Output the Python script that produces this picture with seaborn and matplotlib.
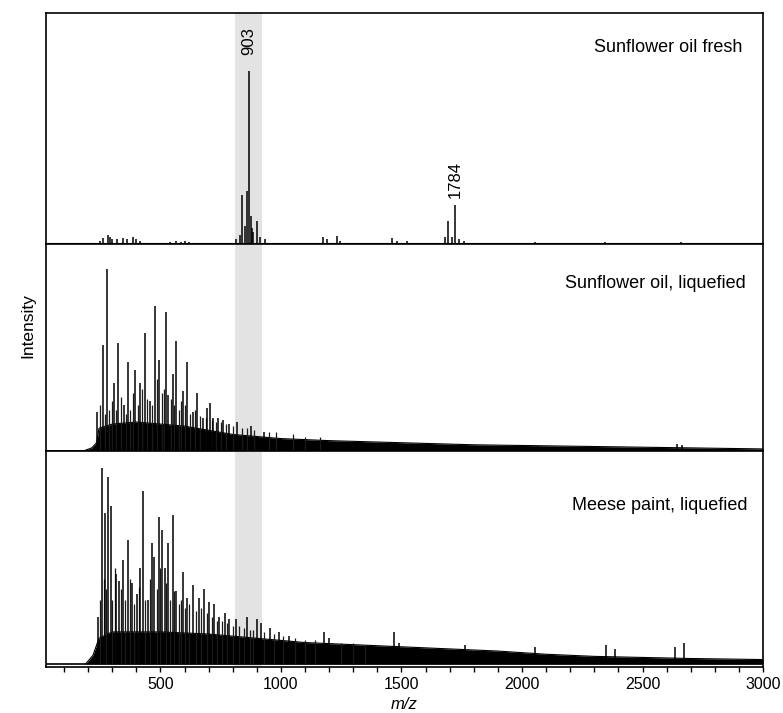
import numpy as np
import pandas as pd
import seaborn as sns
import matplotlib.pyplot as plt
from matplotlib.ticker import MultipleLocator

# ---- data (m/z, relative intensity in % of panel) ----
fresh_mz = [248, 262, 281, 290, 300, 320, 345, 360, 385, 400, 415,
            540, 566, 585, 600, 620, 812, 830, 839, 850, 857, 868, 874, 880,
            886, 901, 912, 935, 1174, 1190, 1233, 1245, 1459, 1480, 1521,
            1680, 1694, 1710, 1723, 1740, 1760, 2053, 2343, 2660]
fresh_h = [1.5, 2.5, 4, 3, 2, 2, 2.5, 2, 3, 2, 1.5,
           1, 1.5, 1, 1.5, 1, 2, 4, 21, 8, 23, 75, 12, 7,
           5, 10, 3, 2, 3, 2, 3.5, 1.5, 2.5, 1.5, 1.5,
           3, 10, 3, 17, 2, 1.5, 1, 1, 0.8]
fresh_base_mz = [30, 3000]
fresh_base_h = [0.6, 0.6]

liq_mz = [238, 260, 277, 307, 325, 348, 365, 393, 416, 434, 455, 477, 496,
          521, 533, 551, 565, 592, 610, 634, 652, 675, 695, 705, 720, 740,
          760, 785, 819, 875, 930, 1480, 2066, 2314, 2645, 2665]
liq_h = [19, 51, 88, 33, 52, 22, 43, 39, 33, 57, 24, 70, 44,
         67, 27, 37, 53, 29, 43, 19, 28, 16, 21, 23, 16, 16,
         15, 13, 14, 12, 9, 4, 2.5, 2.5, 3.5, 3]
liq_minor_mz = [250, 268, 286, 298, 315, 335, 356, 375, 385, 405, 425, 445,
                465, 487, 508, 515, 542, 558, 575, 585, 600, 622, 645, 665,
                688, 712, 730, 750, 770, 800, 840, 860, 890, 950, 980, 1050,
                1100, 1160]
liq_minor_h = [22, 18, 20, 24, 20, 26, 18, 20, 28, 22, 30, 25,
               22, 35, 28, 30, 25, 22, 20, 24, 22, 18, 20, 17,
               16, 15, 14, 14, 13, 12, 11, 11, 10, 9, 9, 8,
               7, 7]
liq_env_mz = [180, 215, 235, 245, 300, 400, 500, 600, 700, 800, 900, 1000,
              1200, 1500, 1800, 2100, 2400, 2700, 3000]
liq_env_h = [0, 1.5, 4, 11, 13, 14, 13, 12, 10, 8, 7, 6,
             5, 4, 3, 2.5, 2, 1.5, 1]

meese_mz = [241, 259, 269, 284, 293, 317, 328, 344, 366, 383, 402, 416, 427,
            448, 464, 475, 493, 507, 519, 533, 551, 565, 594, 610, 636, 661,
            682, 702, 723, 744, 769, 785, 813, 857, 900, 916, 953, 992, 1033,
            1178, 1199, 1467, 1488, 1764, 2054, 2347, 2384, 2636, 2673]
meese_h = [22, 92, 71, 88, 74, 42, 39, 49, 58, 38, 33, 45, 81,
           30, 57, 50, 69, 63, 45, 57, 70, 34, 43, 31, 37, 31,
           35, 29, 28, 22, 24, 21, 21, 22, 21, 19, 17, 15, 13,
           15, 12, 15, 10, 9, 8, 9, 7, 8, 10]
meese_minor_mz = [250, 264, 276, 300, 310, 336, 352, 375, 392, 410, 437, 455,
                  484, 500, 525, 540, 558, 575, 585, 602, 620, 648, 670, 692,
                  712, 735, 757, 777, 800, 825, 845, 870, 885, 930, 970, 1010,
                  1060, 1100, 1140, 1250, 1300, 1350]
meese_minor_h = [30, 40, 35, 30, 45, 35, 30, 40, 28, 36, 30, 40,
                 35, 45, 38, 30, 34, 28, 30, 26, 28, 25, 26, 24,
                 22, 20, 20, 19, 18, 18, 17, 16, 16, 15, 14, 13,
                 12, 11, 11, 10, 10, 9]
meese_env_mz = [190, 220, 245, 300, 500, 700, 900, 1100, 1300, 1500, 1700,
                1900, 2100, 2300, 2500, 2700, 3000]
meese_env_h = [0, 4, 12, 15, 15, 14, 12, 10, 9, 8, 7,
               6, 4.5, 3.5, 3, 2.5, 2]

panel_titles = ["Sunflower oil fresh", "Sunflower oil, liquefied", "Meese paint, liquefied"]
title_x = [0.971, 0.976, 0.978]
title_y = [0.85, 0.81, 0.75]
band = (810, 920)
ann_text = ["903", "1784"]
ann_mz = [868, 1723]
ann_y = [88, 28]
x_ticks = [500, 1000, 1500, 2000, 2500, 3000]

sns.set_style("ticks")
plt.rcParams["font.family"] = ["Liberation Sans", "DejaVu Sans"]
plt.rcParams["text.color"] = "black"
plt.rcParams["axes.labelcolor"] = "black"
plt.rcParams["xtick.color"] = "black"

fig, axes = plt.subplots(3, 1, figsize=(7.83, 7.13), dpi=100, sharex=True,
                         gridspec_kw=dict(height_ratios=[231, 207, 216], hspace=0))
fig.subplots_adjust(left=0.0587, right=0.9745, top=0.9818, bottom=0.0645)

panels = [
    (fresh_mz, fresh_h, [], [], fresh_base_mz, fresh_base_h),
    (liq_mz, liq_h, liq_minor_mz, liq_minor_h, liq_env_mz, liq_env_h),
    (meese_mz, meese_h, meese_minor_mz, meese_minor_h, meese_env_mz, meese_env_h),
]

for i, (ax, (mz, h, mmz, mh, emz, eh)) in enumerate(zip(axes, panels)):
    ax.axvspan(*band, color="#e3e3e3", lw=0, zorder=0)
    env = pd.DataFrame({"mz": emz, "h": eh})
    ax.fill_between(env["mz"], 0, env["h"], color="black", lw=0, zorder=2)
    sns.lineplot(data=env, x="mz", y="h", ax=ax, color="black", lw=0.8, zorder=3)
    ax.plot([30, 3000], [0, 0], color="black", lw=1.2, zorder=3)
    if mmz:
        ax.vlines(mmz, 0, mh, color="#1a1a1a", lw=0.9, zorder=3)
    ax.vlines(mz, 0, h, color="black", lw=1.1, zorder=4)
    ax.text(title_x[i], title_y[i], panel_titles[i], transform=ax.transAxes,
            ha="right", va="center", fontsize=13)
    ax.set_yticks([])
    ax.set_ylabel("")
    ax.set_xlim(25, 3000)
    for s in ax.spines.values():
        s.set_linewidth(1.2)
        s.set_color("black")
    if i < 2:
        ax.set_ylim(0, 100)
        ax.tick_params(axis="x", bottom=False, labelbottom=False)
    ax.set_xlabel("")

for t, x, y in zip(ann_text, ann_mz, ann_y):
    axes[0].text(x, y, t, rotation=90, ha="center", va="center", fontsize=12)

ax = axes[2]
ax.set_ylim(-1.5, 100)
ax.set_xticks(x_ticks)
ax.set_xticklabels([str(v) for v in x_ticks], fontsize=11.5)
ax.xaxis.set_minor_locator(MultipleLocator(100))
ax.tick_params(axis="x", which="both", direction="out", length=3.5, width=1, pad=4)
ax.set_xlabel("m/z", style="italic", fontsize=12, labelpad=3)

fig.text(0.036, 0.544, "Intensity", rotation=90, ha="center", va="center", fontsize=12.5)

fig.savefig("out.png", dpi=100, facecolor="white")
